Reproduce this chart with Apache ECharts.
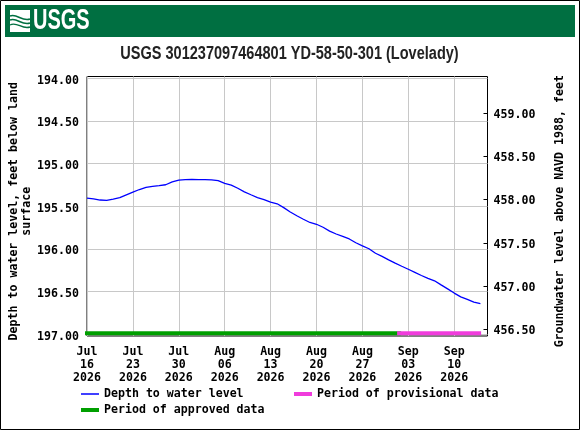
<!DOCTYPE html>
<html>
<head>
<meta charset="utf-8">
<style>html,body{margin:0;padding:0;background:#fff}#chart{width:580px;height:430px}</style>
<script src="https://cdn.jsdelivr.net/npm/echarts@6/dist/echarts.min.js"></script>
</head>
<body>
<div id="chart"></div>
<script>
// daily depth to water, feet below land surface
// index 0 is Jul 16 2026
let depth = [
  195.406,195.413,195.427,195.430,195.416,195.399,195.366,195.334,195.304,195.279,
  195.267,195.259,195.248,195.215,195.195,195.187,195.186,195.187,195.188,195.191,
  195.201,195.231,195.253,195.289,195.331,195.365,195.398,195.423,195.451,195.471,
  195.516,195.568,195.611,195.652,195.690,195.711,195.746,195.791,195.825,195.854,
  195.883,195.928,195.965,195.998,196.051,196.088,196.128,196.166,196.203,196.238,
  196.274,196.311,196.344,196.373,196.421,196.468,196.517,196.561,196.590,196.622,
  196.640
];

let xTicks = [0,7,14,21,28,35,42,49,56];
let xLabels = ['Jul\n16\n2026','Jul\n23\n2026','Jul\n30\n2026','Aug\n06\n2026','Aug\n13\n2026','Aug\n20\n2026','Aug\n27\n2026','Sep\n03\n2026','Sep\n10\n2026'];
let depthTicks = [194,194.5,195,195.5,196,196.5,197];
let elevTicks = [456.5,457,457.5,458,458.5,459];

// status bars sit along the bottom of the plot
let barLevel = 196.988;
let approvedDays = [0,47.6];
let provisionalDays = [47.6,59.8];

let mono = '"DejaVu Sans Mono"';
let textStyle = {fontFamily:mono,fontWeight:'bold',fontSize:11.6,color:'#000'};

let chart = echarts.init(document.getElementById('chart'),null,{renderer:'canvas'});
let barSeries = (name,days,color)=>({
  name:name,type:'line',yAxisIndex:0,symbol:'none',silent:true,clip:false,z:5,
  data:days.map(d=>[d,barLevel]),
  lineStyle:{color:color,width:4,cap:'square'},itemStyle:{color:color}
});
let legendAt = (name,left,top,h,color)=>({
  data:[{name:name,icon:'rect',itemStyle:{color:color}}],
  left:left,top:top,itemWidth:18,itemHeight:h,itemGap:0,padding:0,
  textStyle:textStyle,selectedMode:false
});
// y tick labels sit a little under their gridline in the reference
let yLabel = (ticks,margin,drop)=>({
  customValues:ticks,margin:margin,
  formatter:v=>'{v|'+v.toFixed(2)+'}',
  rich:{v:Object.assign({},textStyle,{padding:[drop,0,0,0]})}
});

chart.setOption({
  animation:false,
  backgroundColor:'#fff',
  legend:[
    legendAt('Depth to water level',81,388,1.5,'#0000ff'),
    legendAt('Period of provisional data',294,388,4,'#f03cdc'),
    legendAt('Period of approved data',81,404,4,'#009f00')
  ],
  grid:{left:87,top:76.5,width:400.5,height:259.5,outerBoundsMode:'none',show:true,borderColor:'#000',borderWidth:1,backgroundColor:'#fff'},
  xAxis:{
    type:'value',
    min:0,max:61.08,
    axisLine:{show:false},
    axisTick:{show:false,customValues:xTicks},
    splitLine:{show:true,lineStyle:{color:'#c8c8c8',width:1}},
    axisLabel:{
      customValues:xTicks,hideOverlap:false,margin:9,lineHeight:13,align:'center',
      fontFamily:mono,fontWeight:'bold',fontSize:11.6,color:'#000',
      formatter:v=>xLabels[xTicks.indexOf(v)]
    }
  },
  yAxis:[
    {
      type:'value',inverse:true,min:193.98,max:197.02,
      name:'Depth to water level, feet below land\nsurface',nameLocation:'middle',nameGap:54,nameRotate:90,nameMoveOverlap:false,
      nameTextStyle:Object.assign({},textStyle,{lineHeight:13,padding:[0,10,0,0]}),
      axisLine:{show:false},
      axisTick:{show:false,customValues:depthTicks},
      splitLine:{show:true,lineStyle:{color:'#c8c8c8',width:1}},
      axisLabel:yLabel(depthTicks,8,5)
    },
    {
      type:'value',position:'right',min:456.427,max:459.421,
      name:'Groundwater level above NAVD 1988, feet',nameLocation:'middle',nameGap:66,nameRotate:90,nameMoveOverlap:false,
      nameTextStyle:Object.assign({},textStyle,{padding:[0,10,0,0]}),
      axisLine:{show:false},
      axisTick:{show:true,inside:true,length:4,customValues:elevTicks,lineStyle:{color:'#000',width:1}},
      splitLine:{show:false},
      axisLabel:yLabel(elevTicks,6,3)
    }
  ],
  series:[
    {
      name:'Depth to water level',type:'line',yAxisIndex:0,symbol:'none',z:4,
      data:depth.map((v,i)=>[i,v]),
      lineStyle:{color:'#0000ff',width:1.3},itemStyle:{color:'#0000ff'}
    },
    barSeries('Period of approved data',approvedDays,'#009f00'),
    barSeries('Period of provisional data',provisionalDays,'#f03cdc')
  ],
  graphic:[
    {type:'rect',silent:true,z:-1,shape:{x:0.5,y:0.5,width:579,height:429},style:{fill:null,stroke:'#000',lineWidth:1}},
    {type:'rect',silent:true,shape:{x:5,y:5,width:570,height:32},style:{fill:'#006f41'}},
    {type:'rect',silent:true,z:2,shape:{x:10,y:10,width:20,height:22},style:{fill:'#fff'}},
    {type:'bezierCurve',silent:true,z:3,shape:{x1:10,y1:16,cpx1:17,cpy1:13,cpx2:22,cpy2:22,x2:30,y2:19},style:{fill:null,stroke:'#006f41',lineWidth:1.6}},
    {type:'bezierCurve',silent:true,z:3,shape:{x1:10,y1:20,cpx1:17,cpy1:17,cpx2:22,cpy2:26,x2:30,y2:23},style:{fill:null,stroke:'#006f41',lineWidth:1.6}},
    {type:'bezierCurve',silent:true,z:3,shape:{x1:10,y1:25,cpx1:17,cpy1:21,cpx2:22,cpy2:30,x2:30,y2:27},style:{fill:null,stroke:'#006f41',lineWidth:1.4}},
    {type:'text',silent:true,z:3,x:33,y:21,scaleX:0.69,style:{text:'USGS',fill:'#fff',font:'bold 29px "Liberation Sans"',textAlign:'left',textVerticalAlign:'middle'}},
    // no narrow face installed, so squeeze the title to the reference width
    {type:'text',silent:true,z:3,x:289.5,y:54,scaleX:0.807,style:{text:'USGS 301237097464801 YD-58-50-301 (Lovelady)',fill:'#222',font:'bold 18px "Liberation Sans"',textAlign:'center',textVerticalAlign:'middle'}}
  ]
});
</script>
</body>
</html>
